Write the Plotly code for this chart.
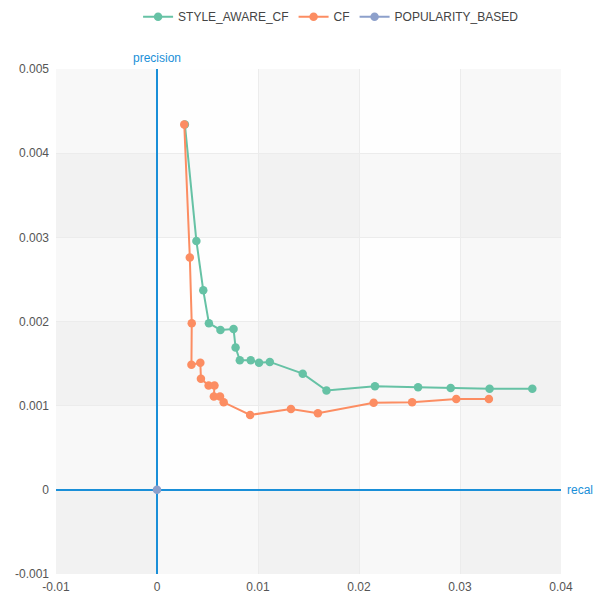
import plotly.graph_objects as go

# ---- data ----
style_recall = [0.00276, 0.00390, 0.00458, 0.00514, 0.00628, 0.00758, 0.00778, 0.00820,
                0.00928, 0.01010, 0.01117, 0.01443, 0.01678, 0.02158, 0.02585, 0.02908,
                0.03293, 0.03716]
style_precision = [0.00434, 0.002957, 0.00237, 0.00198, 0.00190, 0.00191, 0.00169, 0.00154,
                   0.00154, 0.00151, 0.00152, 0.00138, 0.00118, 0.00123, 0.00122, 0.00121,
                   0.00120, 0.00120]

cf_recall = [0.00270, 0.00325, 0.00344, 0.00341, 0.00429, 0.00435, 0.00511, 0.00569,
             0.00563, 0.00624, 0.00660, 0.00922, 0.01326, 0.01593, 0.02145, 0.02526,
             0.02963, 0.03286]
cf_precision = [0.00434, 0.00276, 0.00198, 0.001486, 0.00151, 0.00132, 0.00124, 0.00124,
                0.00111, 0.00111, 0.00104, 0.00089, 0.00096, 0.00091, 0.001035, 0.00104,
                0.00108, 0.00108]

pop_recall = [0.0]
pop_precision = [0.0]

x_ticks = [-0.01, 0, 0.01, 0.02, 0.03, 0.04]
x_tick_labels = ["-0.01", "0", "0.01", "0.02", "0.03", "0.04"]
y_ticks = [-0.001, 0, 0.001, 0.002, 0.003, 0.004, 0.005]
y_tick_labels = ["-0.001", "0", "0.001", "0.002", "0.003", "0.004", "0.005"]

series = [
    ("STYLE_AWARE_CF", style_recall, style_precision, "#66c2a5"),
    ("CF", cf_recall, cf_precision, "#fc8d62"),
    ("POPULARITY_BASED", pop_recall, pop_precision, "#8da0cb"),
]

FONT = "Liberation Sans, Arial, sans-serif"
AXIS_BLUE = "#1a8fd8"

fig = go.Figure()
for name, xs, ys, col in series:
    fig.add_trace(go.Scatter(
        x=xs, y=ys, name=name, mode="lines+markers",
        line=dict(color=col, width=2),
        marker=dict(color=col, size=8.5),
    ))

# alternating split areas
shapes = []
band = "rgba(170,170,170,0.065)"
for i in range(0, len(x_ticks) - 1, 2):
    shapes.append(dict(type="rect", xref="x", yref="y", x0=x_ticks[i], x1=x_ticks[i + 1],
                       y0=y_ticks[0], y1=y_ticks[-1], fillcolor=band, line_width=0, layer="below"))
for i in range(0, len(y_ticks) - 1, 2):
    shapes.append(dict(type="rect", xref="x", yref="y", x0=x_ticks[0], x1=x_ticks[-1],
                       y0=y_ticks[i], y1=y_ticks[i + 1], fillcolor=band, line_width=0, layer="below"))

fig.update_layout(
    width=586, height=587,
    margin=dict(l=48, r=33, t=61, b=21),
    paper_bgcolor="white", plot_bgcolor="#fefefe",
    font=dict(family=FONT, size=12, color="#555"),
    shapes=shapes,
    showlegend=True,
    legend=dict(orientation="h", xref="container", yref="container",
                x=0.222, xanchor="left", y=0.985, yanchor="middle",
                font=dict(size=12, color="#444"), itemwidth=30,
                bgcolor="rgba(0,0,0,0)"),
    xaxis=dict(range=[-0.01, 0.04], tickvals=x_ticks, ticktext=x_tick_labels,
               showgrid=True, gridcolor="#ececec", gridwidth=1,
               zeroline=True, zerolinecolor=AXIS_BLUE, zerolinewidth=2,
               showline=False, ticks="", ticklabelstandoff=4, automargin=False,
               tickfont=dict(color="#555", size=12)),
    yaxis=dict(range=[-0.001, 0.005], tickvals=y_ticks, ticktext=y_tick_labels,
               showgrid=True, gridcolor="#ececec", gridwidth=1,
               zeroline=True, zerolinecolor=AXIS_BLUE, zerolinewidth=2,
               showline=False, ticks="", ticklabelstandoff=6, automargin=False,
               tickfont=dict(color="#555", size=12)),
    annotations=[
        dict(text="precision", xref="x", yref="paper", x=0, y=1, xanchor="center",
             yanchor="bottom", yshift=2, showarrow=False,
             font=dict(color=AXIS_BLUE, size=12, family=FONT)),
        dict(text="recal", xref="paper", yref="y", x=1, y=0, xanchor="left",
             yanchor="middle", xshift=4, showarrow=False,
             font=dict(color=AXIS_BLUE, size=12, family=FONT)),
    ],
)

fig.write_html("out.html")
